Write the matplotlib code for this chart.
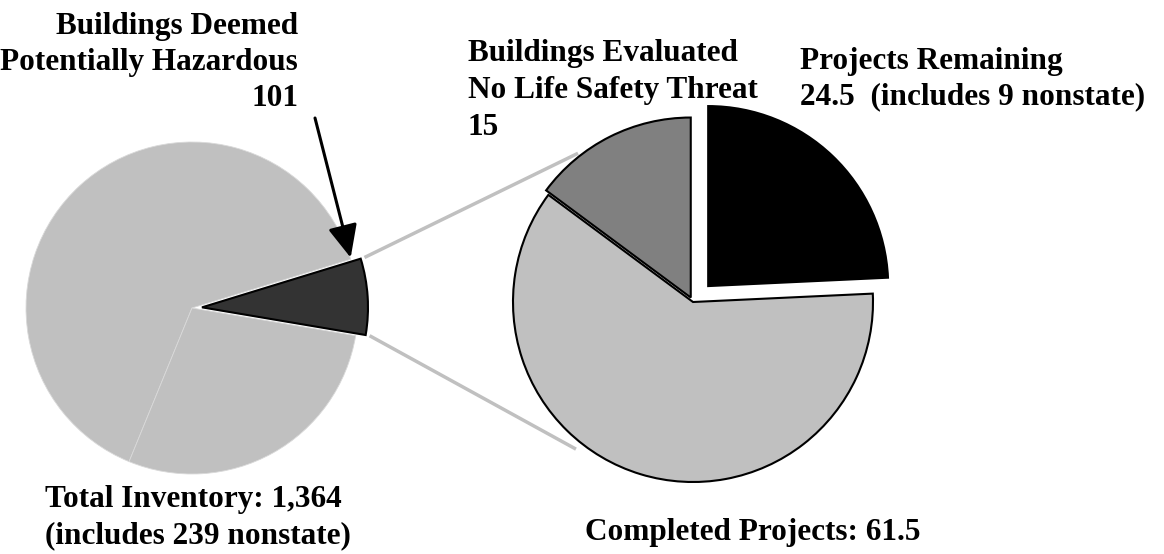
import numpy as np
import matplotlib
matplotlib.use("Agg")
import matplotlib.pyplot as plt

# left pie: whole inventory (hazardous slice first, then the two light parts)
inventory_labels = ["Potentially Hazardous", "Other A", "Other B"]
inventory_values = [101, 874, 389]
inventory_colors = ["#333333", "#c0c0c0", "#c0c0c0"]

# right pie: breakdown of the 101 hazardous buildings
hazard_labels = ["Projects Remaining", "Completed Projects", "No Life Safety Threat"]
hazard_values = [24.5, 61.5, 15]
hazard_colors = ["#000000", "#c0c0c0", "#808080"]

W, H = 1164, 554
fig = plt.figure(figsize=(W / 100, H / 100), dpi=100)
ax = fig.add_axes([0, 0, 1, 1])

plt.rcParams["font.family"] = ["Liberation Serif", "DejaVu Serif"]
fs = 22.5

# left pie (explode is in data units here, i.e. pixels)
lc = (192, H - 308)
lr = 166
wl, _ = ax.pie(inventory_values, colors=inventory_colors, startangle=-9.6,
               counterclock=True, explode=[10, 0, 0], center=lc, radius=lr,
               wedgeprops=dict(linewidth=0.6, edgecolor="#d9d9d9"), frame=True)
wl[0].set_edgecolor("black")
wl[0].set_linewidth(1.5)

# right pie
rc = (693, H - 302)
rr = 180
wr, _ = ax.pie(hazard_values, colors=hazard_colors, startangle=90,
               counterclock=False, explode=[22, 0, 5], center=rc, radius=rr,
               wedgeprops=dict(linewidth=1.5, edgecolor="black"), frame=True)
ax.set_xlim(0, W)
ax.set_ylim(0, H)
ax.set_aspect("equal")
ax.axis("off")

# connector lines from the hazardous wedge to the right pie
hw = wl[0]
hx, hy = hw.center
for th_l, th_r in [(hw.theta2, 127.7), (hw.theta1, 231.5)]:
    a = np.deg2rad(th_l)
    b = np.deg2rad(th_r)
    x0 = hx + (lr + 4) * np.cos(a)
    y0 = hy + (lr + 4) * np.sin(a)
    x1 = rc[0] + (rr + 8) * np.cos(b)
    y1 = rc[1] + (rr + 8) * np.sin(b)
    ax.plot([x0, x1], [y0, y1], color="#c0c0c0", lw=2.5, solid_capstyle="butt", zorder=0)

# arrow pointing to the hazardous wedge
a = np.deg2rad(hw.theta2)
tip = (hx + lr * np.cos(a) - 10, hy + lr * np.sin(a) + 1)
ax.annotate("", xy=tip, xytext=(315, H - 118),
            arrowprops=dict(arrowstyle="-|>,head_length=1.0,head_width=0.45",
                            mutation_scale=20, lw=2.2, color="black",
                            shrinkA=0, shrinkB=0))

def txt(x, y, s, ha="left"):
    ax.text(x, H - y, s, fontsize=fs, fontweight="bold", ha=ha, va="baseline")

txt(298, 34, "Buildings Deemed", "right")
txt(298, 70, "Potentially Hazardous", "right")
txt(298, 106, "101", "right")

txt(468, 61, "Buildings Evaluated")
txt(468, 98, "No Life Safety Threat")
txt(468, 135, "15")

txt(800, 69, "Projects Remaining")
txt(800, 104, "24.5  (includes 9 nonstate)")

txt(45, 507, "Total Inventory: 1,364")
txt(45, 543, "(includes 239 nonstate)")

txt(585, 540, "Completed Projects: 61.5")

fig.savefig("out.png", dpi=100)
